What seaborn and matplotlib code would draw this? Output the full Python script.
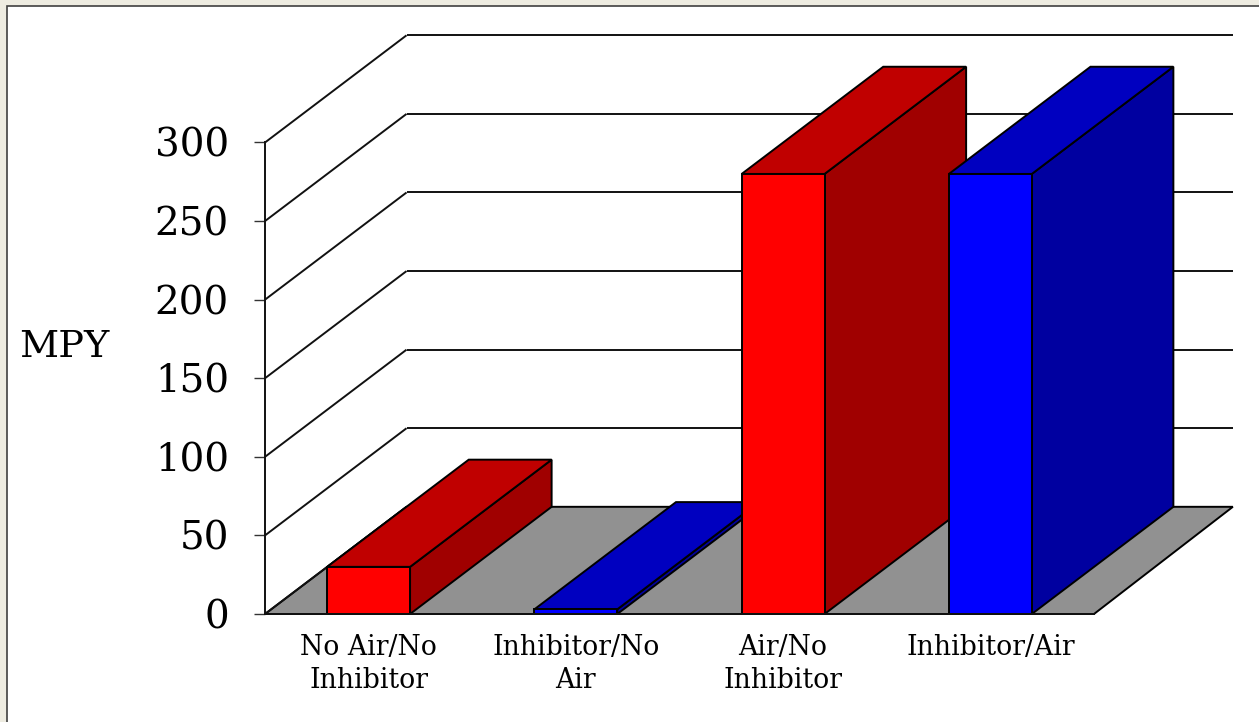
import matplotlib
matplotlib.use("Agg")
import matplotlib.pyplot as plt
from matplotlib.patches import Polygon, Rectangle
import pandas as pd
import seaborn as sns

# Corrosion rate per test condition
conditions = ["No Air/No\nInhibitor", "Inhibitor/No\nAir", "Air/No\nInhibitor", "Inhibitor/Air"]
mpy = [30, 3, 280, 280]
y_ticks = [0, 50, 100, 150, 200, 250, 300]

front_colors = ["#ff0000", "#0000ff", "#ff0000", "#0000ff"]
top_colors = ["#c00000", "#0000c0", "#c00000", "#0000c0"]
side_colors = ["#a00000", "#0000a0", "#a00000", "#0000a0"]

W, H = 1259, 722
AX_L, AX_R, AX_TOP, AX_BOT = 265, 1094, 142.5, 614
BAR_WIDTH = 0.4
DEPTH_X = 0.683  # oblique offset of the back plane, in category units
DEPTH_Y = 68.2   # oblique offset of the back plane, in MPY units
BACK_RIGHT = 4.17  # right end of the floor and back wall, in category units
LW = 1.4

sns.set_theme(style="white")
plt.rcParams["font.family"] = ["DejaVu Serif"]

fig = plt.figure(figsize=(W / 100, H / 100), dpi=100, facecolor="#eeece1")
fig.add_artist(Rectangle((7 / W, -0.02), 1.0, 1.02 - 6 / H, transform=fig.transFigure,
                         facecolor="white", edgecolor="#404040", linewidth=1.2, zorder=-1))

ax = fig.add_axes([AX_L / W, 1 - AX_BOT / H, (AX_R - AX_L) / W, (AX_BOT - AX_TOP) / H])
ax.patch.set_alpha(0)

df = pd.DataFrame({"condition": conditions, "mpy": mpy})
sns.barplot(data=df, x="condition", y="mpy", hue="condition", order=conditions,
            hue_order=conditions, palette=front_colors, saturation=1, width=BAR_WIDTH,
            dodge=False, legend=False, edgecolor="black", linewidth=LW, ax=ax)

ax.set_xlim(-0.5, 3.5)
ax.set_ylim(0, 300)

# Floor of the oblique box
ax.add_patch(Polygon([(-0.5, 0), (3.5, 0), (BACK_RIGHT, DEPTH_Y), (-0.5 + DEPTH_X, DEPTH_Y)],
                     closed=True, facecolor="#919191", edgecolor="black", linewidth=LW,
                     clip_on=False, zorder=1))

# Wall lines: a diagonal on the side wall and a horizontal on the back wall
for v in y_ticks:
    ax.plot([-0.5, -0.5 + DEPTH_X], [v, v + DEPTH_Y], color="#111111", lw=LW,
            clip_on=False, zorder=1.5, solid_capstyle="butt")
    if v > 0:
        ax.plot([-0.5 + DEPTH_X, BACK_RIGHT], [v + DEPTH_Y, v + DEPTH_Y], color="#111111",
                lw=LW, clip_on=False, zorder=1.5, solid_capstyle="butt")

# Bars are stacked left to right, so each front covers the depth faces of its left neighbour
for i, (patch, v) in enumerate(zip(ax.patches[:len(mpy)], mpy)):
    x0, x1 = i - BAR_WIDTH / 2, i + BAR_WIDTH / 2
    base = 2 + i
    ax.add_patch(Polygon([(x1, 0), (x1 + DEPTH_X, DEPTH_Y), (x1 + DEPTH_X, v + DEPTH_Y), (x1, v)],
                         closed=True, facecolor=side_colors[i], edgecolor="black", linewidth=LW,
                         clip_on=False, zorder=base))
    ax.add_patch(Polygon([(x0, v), (x1, v), (x1 + DEPTH_X, v + DEPTH_Y), (x0 + DEPTH_X, v + DEPTH_Y)],
                         closed=True, facecolor=top_colors[i], edgecolor="black", linewidth=LW,
                         clip_on=False, zorder=base + 0.1))
    patch.set_zorder(base + 0.2)

for name in ("top", "right"):
    ax.spines[name].set_visible(False)
for name in ("left", "bottom"):
    ax.spines[name].set_color("#111111")
    ax.spines[name].set_linewidth(LW)
    ax.spines[name].set_zorder(10)

ax.set_yticks(y_ticks)
ax.tick_params(axis="y", left=True, length=8, width=1, color="#333333", pad=18, labelsize=28,
               labelcolor="black")
ax.tick_params(axis="x", bottom=False, pad=8.5, labelsize=19.2, labelcolor="black")
ax.set_xlabel("")
ax.set_ylabel("MPY", rotation=0, fontsize=27.5, color="black", ha="center", va="center")
ax.yaxis.set_label_coords((64 - AX_L) / (AX_R - AX_L), (AX_BOT - 347) / (AX_BOT - AX_TOP))
for lab in ax.get_xticklabels():
    lab.set_linespacing(1.27)

fig.savefig("out.png", dpi=100, facecolor=fig.get_facecolor())
